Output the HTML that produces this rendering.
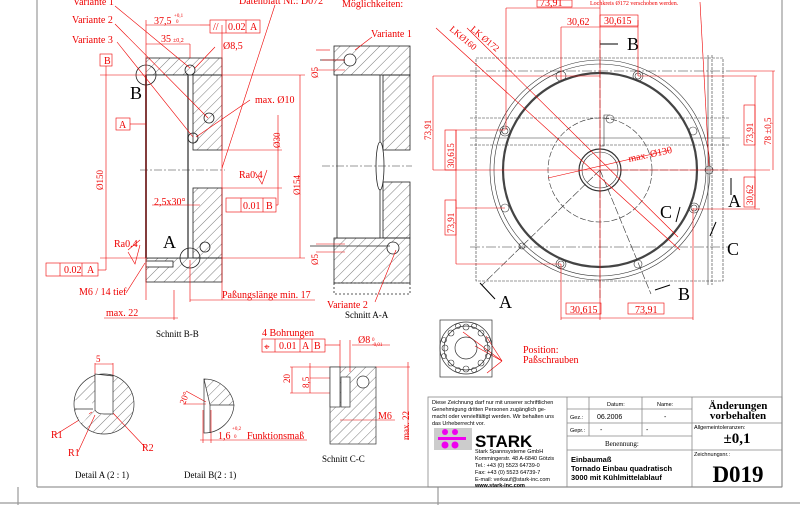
<!DOCTYPE html>
<html><head><meta charset="utf-8"><style>
html,body{margin:0;padding:0;background:#fff;width:800px;height:505px;overflow:hidden}
svg{display:block}
.r{fill:#e00;font-family:"Liberation Serif",serif}
.k{fill:#000;font-family:"Liberation Serif",serif}
.s{fill:#000;font-family:"Liberation Sans",sans-serif}
</style></head><body>
<svg width="800" height="505" viewBox="0 0 800 505" font-size="10" xmlns="http://www.w3.org/2000/svg">
<defs>
<pattern id="h" width="7" height="7" patternUnits="userSpaceOnUse" patternTransform="rotate(45)">
<line x1="0" y1="0" x2="0" y2="7" stroke="#444" stroke-width="0.7"/></pattern>
</defs>
<g stroke="#999" fill="none" stroke-width="1.2">
<line x1="37" y1="0" x2="37" y2="487"/><line x1="37" y1="487" x2="782" y2="487"/>
<line x1="782" y1="0" x2="782" y2="487"/><line x1="0" y1="503" x2="800" y2="503"/>
<line x1="18" y1="487" x2="18" y2="505"/><line x1="438" y1="487" x2="438" y2="505"/>
</g>
<!-- Schnitt B-B -->
<g stroke="#222" stroke-width="0.8">
<rect x="146" y="58" width="76" height="17" fill="url(#h)"/>
<rect x="193" y="75" width="29" height="75" fill="url(#h)"/>
<rect x="193" y="188" width="29" height="70" fill="url(#h)"/>
<rect x="146" y="258" width="76" height="24" fill="url(#h)"/>
<rect x="146" y="75" width="42" height="183" fill="#fff"/>
<line x1="146" y1="75" x2="146" y2="258" stroke-width="2" stroke="#555"/>
<line x1="188" y1="75" x2="188" y2="258" stroke-width="1.5" stroke="#555"/>
<circle cx="146" cy="75" r="10" fill="none"/><circle cx="190" cy="258" r="10" fill="none"/>
<circle cx="190" cy="70" r="5" fill="none"/><circle cx="209" cy="118" r="5" fill="none"/>
<circle cx="193" cy="138" r="5" fill="none"/><circle cx="205" cy="247" r="5" fill="none"/>
<rect x="146" y="261" width="27" height="6" fill="#fff"/>
</g>
<line x1="140" y1="170" x2="225" y2="170" stroke="#333" stroke-width="0.5" stroke-dasharray="8,2,2,2"/>
<!-- Schnitt A-A -->
<g stroke="#222" stroke-width="0.8">
<rect x="334" y="46" width="76" height="29" fill="url(#h)"/>
<rect x="383" y="75" width="27" height="75" fill="url(#h)"/>
<rect x="383" y="182" width="27" height="56" fill="url(#h)"/>
<rect x="334" y="238" width="76" height="45" fill="url(#h)"/>
<rect x="337" y="75" width="43" height="163" fill="#fff"/>
<rect x="334" y="283" width="76" height="11" fill="none" stroke-dasharray="2,2"/>
<ellipse cx="380" cy="166" rx="4" ry="24" fill="#fff"/>
<circle cx="350" cy="60" r="6" fill="#fff"/><circle cx="393" cy="248" r="6" fill="#fff"/>
<line x1="310" y1="246" x2="390" y2="246"/><line x1="320" y1="60" x2="345" y2="60"/>
</g>
<line x1="322" y1="166" x2="412" y2="166" stroke="#333" stroke-width="0.5" stroke-dasharray="8,2,2,2"/>
<!-- Top view -->
<g stroke="#333" fill="none" stroke-width="0.6">
<rect x="476" y="58" width="247" height="223" stroke-dasharray="3,1"/>
<line x1="470" y1="71" x2="730" y2="71" stroke-dasharray="10,2,2,2"/>
<line x1="470" y1="118" x2="730" y2="118" stroke-dasharray="3,1"/>
<line x1="470" y1="138" x2="730" y2="138"/>
<line x1="470" y1="145" x2="730" y2="145" stroke-dasharray="3,1"/>
<line x1="470" y1="247" x2="730" y2="247" stroke-dasharray="10,2,2,2"/>
<line x1="708" y1="55" x2="708" y2="285"/><line x1="712" y1="55" x2="712" y2="285" stroke-dasharray="3,1"/>
<circle cx="600" cy="170" r="110"/><circle cx="600" cy="170" r="106"/>
<circle cx="600" cy="170" r="97" stroke-width="2.2" stroke="#444"/>
<circle cx="600" cy="170" r="52" stroke-dasharray="6,2"/>
<circle cx="600" cy="170" r="21" stroke-width="1.2"/><circle cx="600" cy="170" r="18"/>
<circle cx="561" cy="76" r="5"/><circle cx="638" cy="76" r="5"/><circle cx="638" cy="76" r="3"/>
<circle cx="505" cy="131" r="5"/><circle cx="505" cy="131" r="3"/><circle cx="693" cy="131" r="4"/>
<circle cx="505" cy="208" r="4"/><circle cx="694" cy="208" r="5"/><circle cx="694" cy="208" r="3"/>
<circle cx="561" cy="264" r="5"/><circle cx="561" cy="264" r="3"/><circle cx="638" cy="264" r="4"/>
<circle cx="522" cy="246" r="3"/><circle cx="709" cy="170" r="4"/><circle cx="610" cy="119" r="4"/>
<polyline points="610,115 604,115 604,146 600,146" />
<line x1="600" y1="170" x2="482" y2="285" stroke-dasharray="8,2"/>
<line x1="600" y1="170" x2="651" y2="294" stroke-dasharray="8,2"/>
<line x1="600" y1="170" x2="730" y2="170" stroke-dasharray="8,2"/>
<line x1="600" y1="40" x2="600" y2="300" stroke-dasharray="8,2"/>
</g>
<g class="k" font-size="18">
<text x="130" y="99">B</text><text x="163" y="248">A</text>
<text x="627" y="50">B</text><text x="499" y="308">A</text><text x="678" y="300">B</text>
<text x="728" y="207">A</text><text x="727" y="255">C</text><text x="660" y="218">C</text>
</g>
<g stroke="#000" stroke-width="1"><line x1="600" y1="44" x2="618" y2="44"/><line x1="655" y1="290" x2="670" y2="285"/><line x1="480" y1="283" x2="495" y2="299"/><line x1="731" y1="178" x2="731" y2="195"/><line x1="716" y1="222" x2="710" y2="236"/><line x1="680" y1="207" x2="676" y2="222"/></g>
<!-- Red dimensioning -->
<g stroke="#e00" fill="none" stroke-width="0.6">
<line x1="146" y1="20" x2="146" y2="300"/><line x1="222" y1="25" x2="222" y2="300"/>
<line x1="146" y1="25" x2="200" y2="25"/><line x1="146" y1="44" x2="190" y2="44"/>
<line x1="190" y1="44" x2="190" y2="58"/>
<rect x="210" y="20" width="50" height="13"/><line x1="226" y1="20" x2="226" y2="33"/><line x1="246" y1="20" x2="246" y2="33"/>
<line x1="200" y1="25" x2="210" y2="25"/>
<rect x="100" y="54" width="12" height="12"/><line x1="106" y1="66" x2="106" y2="270"/><line x1="100" y1="75" x2="146" y2="75"/>
<line x1="100" y1="258" x2="146" y2="258"/><rect x="116" y="118" width="14" height="12"/><line x1="130" y1="124" x2="146" y2="124"/>
<rect x="46" y="263" width="52" height="13"/><line x1="60" y1="263" x2="60" y2="276"/><line x1="82" y1="263" x2="82" y2="276"/><line x1="98" y1="270" x2="106" y2="270"/>
<line x1="222" y1="75" x2="305" y2="75"/><line x1="222" y1="258" x2="305" y2="258"/><line x1="300" y1="75" x2="300" y2="258"/>
<line x1="222" y1="150" x2="282" y2="150"/><line x1="222" y1="188" x2="282" y2="188"/><line x1="278" y1="115" x2="278" y2="205"/>
<rect x="226" y="198" width="50" height="14"/><line x1="241" y1="198" x2="241" y2="212"/><line x1="263" y1="198" x2="263" y2="212"/><line x1="276" y1="205" x2="278" y2="205"/>
<line x1="152" y1="205" x2="200" y2="205"/>
<line x1="190" y1="300" x2="315" y2="300"/><line x1="190" y1="260" x2="190" y2="302"/>
<line x1="104" y1="318" x2="178" y2="318"/><line x1="174" y1="290" x2="174" y2="320"/>
<line x1="115" y1="6" x2="190" y2="68"/><line x1="115" y1="24" x2="208" y2="118"/><line x1="117" y1="42" x2="193" y2="137"/>
<line x1="215" y1="47" x2="195" y2="68"/><line x1="250" y1="100" x2="196" y2="137"/><line x1="275" y1="5" x2="222" y2="168"/>
<line x1="126" y1="293" x2="145" y2="263"/><line x1="128" y1="250" x2="140" y2="240"/>
<polyline points="255,172 262,184 267,170"/><polyline points="128,252 135,264 140,245"/>
<line x1="322" y1="60" x2="345" y2="60"/><line x1="316" y1="70" x2="345" y2="70"/><line x1="316" y1="50" x2="330" y2="50"/>
<line x1="316" y1="244" x2="345" y2="244"/><line x1="316" y1="252" x2="345" y2="252"/>
<line x1="355" y1="50" x2="372" y2="37"/><line x1="375" y1="302" x2="396" y2="250"/>
<line x1="506" y1="8" x2="506" y2="130"/><line x1="506" y1="8" x2="600" y2="8"/>
<line x1="561" y1="27" x2="561" y2="80"/><line x1="561" y1="27" x2="638" y2="27"/><line x1="638" y1="20" x2="638" y2="76"/>
<line x1="600" y1="0" x2="600" y2="320"/>
<line x1="433" y1="76" x2="600" y2="76"/><line x1="433" y1="170" x2="770" y2="170"/>
<line x1="433" y1="76" x2="433" y2="170"/>
<line x1="456" y1="130" x2="505" y2="130"/><line x1="456" y1="130" x2="456" y2="170"/>
<line x1="456" y1="208" x2="505" y2="208"/><line x1="456" y1="170" x2="456" y2="264"/><line x1="456" y1="264" x2="561" y2="264"/>
<line x1="561" y1="264" x2="561" y2="320"/><line x1="693" y1="208" x2="693" y2="320"/><line x1="561" y1="318" x2="693" y2="318"/>
<line x1="638" y1="76" x2="757" y2="76"/><line x1="755" y1="76" x2="755" y2="170"/>
<line x1="730" y1="71" x2="775" y2="71"/><line x1="773" y1="71" x2="773" y2="170"/>
<line x1="693" y1="209" x2="760" y2="209"/><line x1="755" y1="170" x2="755" y2="209"/>
<line x1="436" y1="28" x2="680" y2="250"/><line x1="467" y1="28" x2="678" y2="237"/>
<line x1="548" y1="178" x2="670" y2="150"/><line x1="700" y1="2" x2="709" y2="166"/>
<rect x="537" y="0" width="35" height="7"/><rect x="600" y="15" width="38" height="11"/>
<rect x="445" y="130" width="11" height="40"/><rect x="445" y="200" width="11" height="35"/>
<rect x="744" y="105" width="11" height="40"/><rect x="744" y="177" width="11" height="30"/>
<rect x="566" y="303" width="35" height="11"/><rect x="628" y="303" width="36" height="11"/>
<rect x="262" y="339" width="63" height="13"/><line x1="275" y1="339" x2="275" y2="352"/><line x1="300" y1="339" x2="300" y2="352"/><line x1="312" y1="339" x2="312" y2="352"/>
<line x1="325" y1="345" x2="340" y2="345"/><line x1="340" y1="340" x2="340" y2="372"/><line x1="350" y1="340" x2="350" y2="372"/><line x1="352" y1="345" x2="390" y2="345"/>
<line x1="290" y1="367" x2="330" y2="367"/><line x1="290" y1="393" x2="330" y2="393"/><line x1="292" y1="367" x2="292" y2="393"/>
<line x1="310" y1="363" x2="310" y2="393"/><line x1="310" y1="378" x2="340" y2="378"/>
<line x1="375" y1="367" x2="410" y2="367"/><line x1="408" y1="362" x2="408" y2="440"/><line x1="340" y1="420" x2="395" y2="420"/>
<line x1="95" y1="363" x2="95" y2="380"/><line x1="113" y1="363" x2="113" y2="380"/><line x1="95" y1="364" x2="113" y2="364"/>
<line x1="55" y1="435" x2="92" y2="412"/><line x1="78" y1="452" x2="95" y2="415"/><line x1="145" y1="447" x2="112" y2="412"/>
<line x1="200" y1="440" x2="307" y2="440"/><line x1="203" y1="410" x2="203" y2="443"/><line x1="211" y1="410" x2="211" y2="443"/>
<line x1="183" y1="404" x2="206" y2="404"/><line x1="186" y1="391" x2="206" y2="402"/>
<line x1="486" y1="336" x2="502" y2="361"/><line x1="463" y1="332" x2="502" y2="361"/><line x1="475" y1="346" x2="502" y2="361"/><line x1="487" y1="373" x2="502" y2="361"/>
</g>
<g class="r" font-size="10">
<text x="73" y="5">Variante 1</text><text x="72" y="23">Variante 2</text><text x="72" y="43">Variante 3</text>
<text x="154" y="24">37,5</text><text x="174" y="17" font-size="5">+0,1</text><text x="176" y="23" font-size="5">0</text>
<text x="161" y="42">35</text><text x="173" y="42" font-size="6">±0,2</text>
<text x="228" y="30">0.02</text><text x="250" y="30">A</text><text x="213" y="30">//</text>
<text x="223" y="49">Ø8,5</text><text x="104" y="64">B</text><text x="119" y="128">A</text>
<text x="255" y="103">max. Ø10</text><text x="239" y="4">Datenblatt Nr.: D072</text>
<text x="239" y="178">Ra0.4</text><text x="114" y="247">Ra0.4</text>
<text x="154" y="205">2,5x30°</text><text x="243" y="209">0.01</text><text x="266" y="209">B</text>
<text x="64" y="273">0.02</text><text x="87" y="273">A</text>
<text x="79" y="295">M6 / 14 tief</text><text x="106" y="316">max. 22</text>
<text x="222" y="298">Paßungslänge min. 17</text>
<text x="371" y="37">Variante 1</text><text x="327" y="308">Variante 2</text>
<text x="342" y="7">Möglichkeiten:</text>
<text x="264" y="350">⌖</text><text x="262" y="336">4 Bohrungen</text><text x="279" y="349">0.01</text><text x="302" y="349">A</text><text x="314" y="349">B</text>
<text x="358" y="343">Ø8</text><text x="372" y="341" font-size="5">0</text><text x="372" y="346" font-size="5">-0,01</text>
<text x="378" y="419">M6</text><text x="96" y="362" font-size="9">5</text>
<text x="51" y="438">R1</text><text x="68" y="456">R1</text><text x="142" y="451">R2</text>
<text x="218" y="439">1,6</text><text x="232" y="430" font-size="5">+0,2</text><text x="234" y="438" font-size="5">0</text><text x="247" y="439">Funktionsmaß</text>
<text x="523" y="353">Position:</text><text x="523" y="363">Paßschrauben</text>
<text x="629" y="162" transform="rotate(-12 629 162)">max. Ø130</text>
<text x="590" y="5" font-size="6">Lochkreis Ø172 verschoben werden.</text>
<text x="567" y="25">30,62</text><text x="604" y="24">30,615</text><text x="540" y="6">73,91</text>
<text x="570" y="313">30,615</text><text x="635" y="313">73,91</text>
<g font-size="9">
<text transform="translate(103 190) rotate(-90)">Ø150</text>
<text transform="translate(280 148) rotate(-90)">Ø30</text>
<text transform="translate(300 195) rotate(-90)">Ø154</text>
<text transform="translate(318 78) rotate(-90)">Ø5</text>
<text transform="translate(318 265) rotate(-90)">Ø5</text>
<text transform="translate(431 140) rotate(-90)">73,91</text>
<text transform="translate(454 168) rotate(-90)">30,615</text>
<text transform="translate(454 233) rotate(-90)">73,91</text>
<text transform="translate(753 143) rotate(-90)">73,91</text>
<text transform="translate(753 205) rotate(-90)">30,62</text>
<text transform="translate(771 145) rotate(-90)">78 ±0,5</text>
<text transform="translate(290 383) rotate(-90)">20</text>
<text transform="translate(309 388) rotate(-90)">8,5</text>
<text transform="translate(409 440) rotate(-90)">max. 22</text>
<text transform="translate(185 405) rotate(-70)">20°</text>
<text transform="translate(449 30) rotate(40)">LKØ160</text>
<text transform="translate(470 30) rotate(40)">LK Ø172</text>
</g>
</g>
<g stroke="#333" stroke-width="0.7">
<circle cx="104" cy="404" r="30" fill="url(#h)"/>
<path d="M95,374 L95,410 Q97,414 104,414 L113,414 Q113,410 113,376 Z" fill="#fff"/>
<path d="M75,400 L93,400 L90,412 Q80,432 78,415 Z" fill="#fff" stroke="none"/>
<line x1="75" y1="409" x2="93" y2="409"/>
<path d="M204,379 A30,30 0 0 1 234,405 L210,405 Z" fill="url(#h)"/>
<path d="M204,379 L204,433 A30,30 0 0 0 234,405" fill="none"/>
<line x1="210" y1="405" x2="210" y2="433"/>
<rect x="330" y="367" width="46" height="77" fill="url(#h)"/>
<rect x="330" y="367" width="10" height="40" fill="#fff"/>
<rect x="341" y="377" width="9" height="30" fill="#fff"/>
<circle cx="363" cy="382" r="6" fill="#fff"/>
<rect x="440" y="320" width="52" height="57" fill="none"/>
<circle cx="466" cy="348" r="26" fill="none"/><circle cx="466" cy="348" r="22" fill="none"/><circle cx="466" cy="348" r="11" fill="none"/>
</g>
<g fill="none" stroke="#333" stroke-width="0.6">
<circle cx="445" cy="348" r="3"/><circle cx="487" cy="348" r="3"/><circle cx="466" cy="327" r="3"/><circle cx="466" cy="369" r="3"/>
<circle cx="451" cy="333" r="3"/><circle cx="481" cy="333" r="3"/><circle cx="451" cy="363" r="3"/><circle cx="481" cy="363" r="3"/>
<circle cx="458" cy="326" r="2.5"/><circle cx="474" cy="326" r="2.5"/><circle cx="458" cy="370" r="2.5"/><circle cx="474" cy="370" r="2.5"/>
<circle cx="444" cy="340" r="2.5"/><circle cx="444" cy="356" r="2.5"/><circle cx="488" cy="340" r="2.5"/><circle cx="488" cy="356" r="2.5"/>
</g>
<g class="k" font-size="9">
<text x="156" y="337">Schnitt B-B</text><text x="345" y="318">Schnitt A-A</text>
<text x="322" y="462">Schnitt C-C</text><text x="75" y="478">Detail A (2 : 1)</text><text x="184" y="478">Detail B(2 : 1)</text>
</g>
<g stroke="#888" fill="none" stroke-width="0.8">
<rect x="428" y="397" width="354" height="90"/>
<line x1="567" y1="397" x2="567" y2="487"/><line x1="692" y1="397" x2="692" y2="487"/>
<line x1="589" y1="397" x2="589" y2="436"/><line x1="642" y1="397" x2="642" y2="436"/>
<line x1="567" y1="409" x2="692" y2="409"/><line x1="567" y1="423" x2="782" y2="423"/>
<line x1="567" y1="436" x2="692" y2="436"/><line x1="567" y1="450" x2="782" y2="450"/>
</g>
<g class="s" font-size="5.5">
<text x="432" y="404">Diese Zeichnung darf nur mit unserer schriftlichen</text>
<text x="432" y="411">Genehmigung dritten Personen zugänglich ge-</text>
<text x="432" y="418">macht oder vervielfältigt werden. Wir behalten uns</text>
<text x="432" y="425">das Urheberrecht vor.</text>
<text x="475" y="453">Stark Spannsysteme GmbH</text>
<text x="475" y="460">Kommingerstr. 48 A-6840 Götzis</text>
<text x="475" y="467">Tel.: +43 (0) 5523 64739-0</text>
<text x="475" y="474">Fax: +43 (0) 5523 64739-7</text>
<text x="475" y="481">E-mail: verkauf@stark-inc.com</text>
<text x="475" y="487" font-weight="bold">www.stark-inc.com</text>
<text x="570" y="419">Gez.:</text><text x="570" y="432">Gepr.:</text>
<text x="694" y="429">Allgemeintoleranzen:</text><text x="694" y="456">Zeichnungsnr.:</text>
<text x="607" y="406">Datum:</text><text x="657" y="406">Name:</text>
</g>
<rect x="434" y="428" width="38" height="22" fill="#ccc"/>
<g fill="#e0e"><circle cx="445" cy="432" r="3"/><circle cx="455" cy="432" r="3"/><rect x="438" y="437" width="28" height="3"/><circle cx="445" cy="445" r="3.5"/><circle cx="455" cy="445" r="3.5"/></g>
<text x="475" y="447" class="s" font-size="17" font-weight="bold">STARK</text>
<g class="s" font-size="7">
<text x="597" y="419">06.2006</text><text x="664" y="419">-</text><text x="600" y="432">-</text><text x="646" y="432">-</text>
</g>
<text x="605" y="446" class="k" font-size="7">Benennung:</text>
<g class="s" font-size="7.5" font-weight="bold"><text x="571" y="462">Einbaumaß</text><text x="571" y="471">Tornado Einbau quadratisch</text><text x="571" y="480">3000 mit Kühlmittelablauf</text></g>
<g class="k" font-weight="bold" text-anchor="middle"><text x="738" y="409" font-size="11">Änderungen</text><text x="738" y="419" font-size="11">vorbehalten</text>
<text x="737" y="443" font-size="15">±0,1</text><text x="738" y="482" font-size="23">D019</text></g>
</svg>
</body></html>
